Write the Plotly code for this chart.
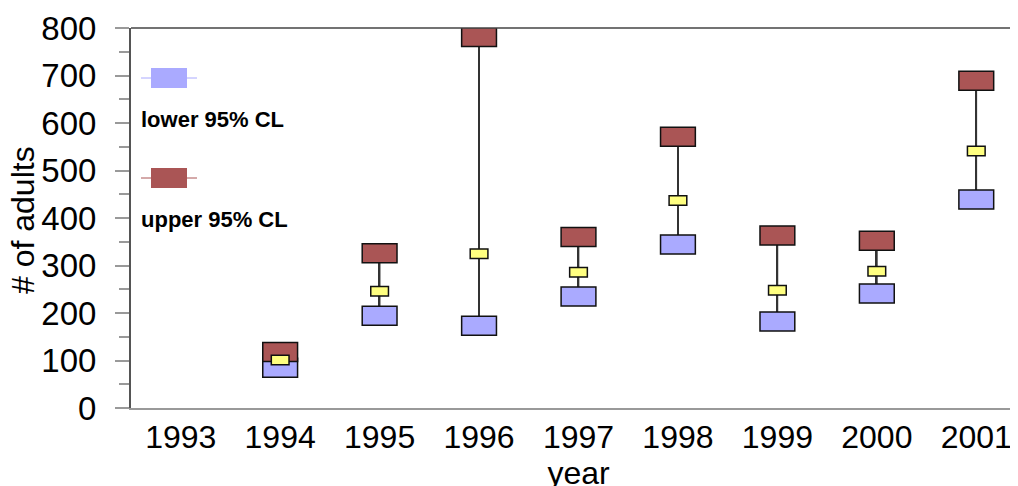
import plotly.graph_objects as go

# ---- data ----
years = ["1993", "1994", "1995", "1996", "1997", "1998", "1999", "2000", "2001"]
data_years = ["1994", "1995", "1996", "1997", "1998", "1999", "2000", "2001"]
lower_cl = [85, 194, 173, 235, 344, 182, 241, 439]
estimate = [101, 246, 325, 286, 437, 248, 288, 541]
upper_cl = [118, 326, 781, 360, 571, 363, 352, 689]
y_ticks = [0, 100, 200, 300, 400, 500, 600, 700, 800]

FONT = "Liberation Sans, Arial, sans-serif"
BLUE = "#AAAAFF"
RED = "#AA5555"
YELLOW = "#FFFF80"

xi = [years.index(y) for y in data_years]
centers = list(range(len(years)))
bounds = [c - 0.5 for c in centers]

BOX_H = 40     # box height in data units
YEL_H = 20
BOX_W = 0.35
YEL_W = 0.178

fig = go.Figure()

# vertical connecting lines (thin bars, drawn first so boxes cover them)
fig.add_trace(go.Bar(
    x=xi, base=lower_cl, y=[u - l for u, l in zip(upper_cl, lower_cl)],
    width=0.017, marker=dict(color="#333333", line=dict(width=0)),
    showlegend=False, hoverinfo="skip"))

# lower 95% CL boxes
fig.add_trace(go.Bar(
    x=xi, base=[v - BOX_H / 2 for v in lower_cl], y=[BOX_H] * len(xi),
    width=BOX_W, marker=dict(color=BLUE, line=dict(color="#111111", width=1.5)),
    name="lower 95% CL", showlegend=False))

# upper 95% CL boxes
fig.add_trace(go.Bar(
    x=xi, base=[v - BOX_H / 2 for v in upper_cl], y=[BOX_H] * len(xi),
    width=BOX_W, marker=dict(color=RED, line=dict(color="#111111", width=1.5)),
    name="upper 95% CL", showlegend=False))

# estimate boxes
fig.add_trace(go.Bar(
    x=xi, base=[v - YEL_H / 2 for v in estimate], y=[YEL_H] * len(xi),
    width=YEL_W, marker=dict(color=YELLOW, line=dict(color="#111111", width=1.5)),
    name="estimate", showlegend=False))

W, H = 1018, 486
L, T, B = 123, 20, 86
PW, PH = W - L, H - T - B
x_range = [-0.5, 8.5]

# screen-pixel helpers (page has an 8px body offset)
def px(xs):
    return (xs - 8 - L) / PW

def py(ys):
    return (H - B - (ys - 8)) / PH

fig.update_layout(
    width=W, height=H,
    margin=dict(l=L, r=0, t=T, b=B),
    paper_bgcolor="white", plot_bgcolor="white",
    barmode="overlay",
    font=dict(family=FONT, size=32, color="black"),
    showlegend=False,
    xaxis=dict(
        range=x_range, tickmode="array", tickvals=centers, ticktext=years,
        ticks="", ticklen=0, showgrid=False, zeroline=False,
        showline=True, linecolor="#999999", linewidth=1.5,
        tickfont=dict(size=32), ticklabelstandoff=0,
        title=dict(text="year", font=dict(size=32), standoff=0),
    ),
    xaxis2=dict(
        overlaying="x", anchor="y", range=x_range, tickmode="array",
        tickvals=bounds, ticks="outside", ticklen=9, tickwidth=1.5,
        tickcolor="#999999", showticklabels=False, showgrid=False,
        zeroline=False, showline=False,
    ),
    xaxis3=dict(
        overlaying="x", anchor="y", range=x_range, tickmode="array",
        tickvals=bounds, ticks="inside", ticklen=9, tickwidth=1.5,
        tickcolor="#999999", showticklabels=False, showgrid=False,
        zeroline=False, showline=False,
    ),
    yaxis=dict(
        range=[0, 800], tickmode="array", tickvals=y_ticks,
        ticks="outside", ticklen=14, tickwidth=1.5, tickcolor="#999999",
        minor=dict(dtick=50, ticks="outside", ticklen=10, tickwidth=1.5,
                   tickcolor="#999999", showgrid=False),
        showgrid=False, zeroline=False,
        showline=True, linecolor="#555555", linewidth=2,
        tickfont=dict(size=33), ticklabelstandoff=12,
    ),
    yaxis2=dict(
        overlaying="y", anchor="x", range=[0, 800], tickmode="array",
        tickvals=y_ticks, ticks="inside", ticklen=14, tickwidth=1.5,
        tickcolor="#999999",
        minor=dict(dtick=50, ticks="inside", ticklen=9, tickwidth=1.5,
                   tickcolor="#999999", showgrid=False),
        showticklabels=False, showgrid=False, zeroline=False, showline=False,
    ),
)

shapes = [
    # top frame line
    dict(type="line", xref="paper", yref="paper", x0=0, x1=1, y0=1, y1=1,
         line=dict(color="#444444", width=1.5)),
]
annotations = [
    # y-axis title
    dict(text="# of adults", xref="paper", yref="paper", x=px(23), y=py(220),
         xanchor="center", yanchor="middle", textangle=-90, showarrow=False,
         font=dict(size=32, family=FONT)),
]
legend_items = [("lower 95% CL", BLUE, 78, 120), ("upper 95% CL", RED, 178, 219)]
for text, col, ymid, ytext in legend_items:
    shapes.append(dict(type="line", xref="paper", yref="paper",
                       x0=px(141), x1=px(197), y0=py(ymid), y1=py(ymid),
                       line=dict(color=col, width=1)))
    shapes.append(dict(type="rect", xref="paper", yref="paper",
                       x0=px(151), x1=px(187), y0=py(ymid - 10), y1=py(ymid + 10),
                       fillcolor=col, line=dict(width=0)))
    annotations.append(dict(text=f"<b>{text}</b>", xref="paper", yref="paper",
                            x=px(139), y=py(ytext), xanchor="left", yanchor="middle",
                            showarrow=False, font=dict(size=22, family=FONT)))
fig.update_layout(shapes=shapes, annotations=annotations)

fig.write_html("out.html")
